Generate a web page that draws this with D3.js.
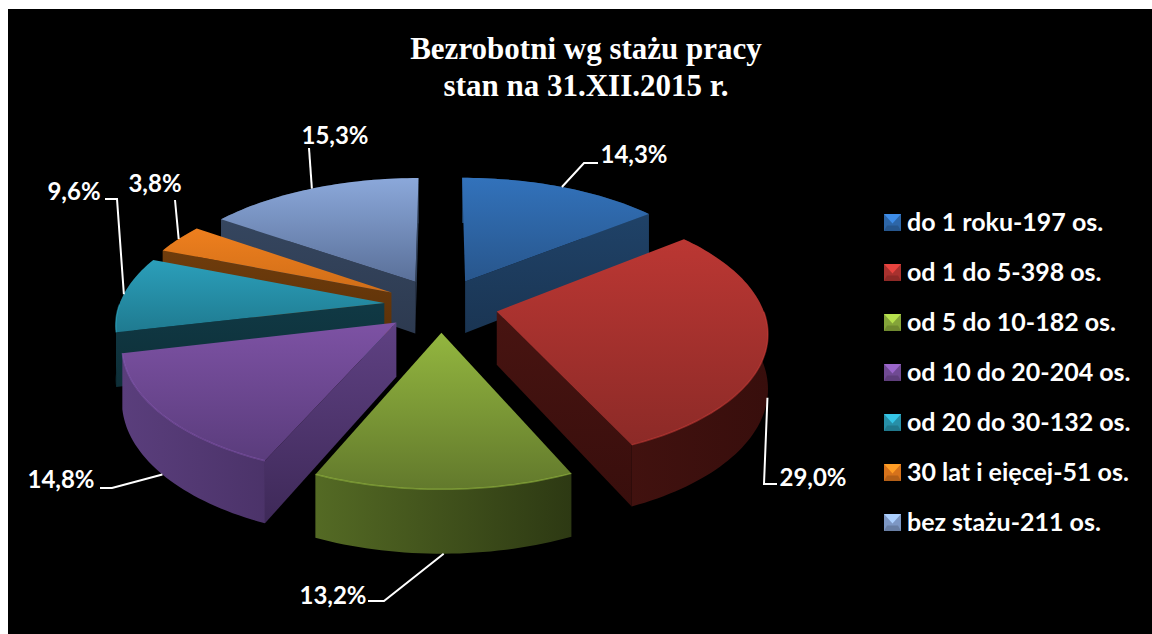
<!DOCTYPE html>
<html><head><meta charset="utf-8">
<script src="https://cdn.jsdelivr.net/npm/d3@7"></script>
<style>html,body{margin:0;padding:0;background:#fff}svg{display:block}</style>
</head><body><svg id="c" width="1152" height="634"></svg>
<script>
const titleLines=["Bezrobotni wg stażu pracy","stan na 31.XII.2015 r."];
const categories=["do 1 roku-197 os.","od 1 do 5-398 os.","od 5 do 10-182 os.","od 10 do 20-204 os.","od 20 do 30-132 os.","30 lat i eięcej-51 os.","bez stażu-211 os."];
const values=[197,398,182,204,132,51,211];
const percentLabels=["14,3%","29,0%","13,2%","14,8%","9,6%","3,8%","15,3%"];
const topColors=[["#3272bb","#28568c"],["#bb3733","#8c2a27"],["#93b63f","#62792c"],["#7d52a4","#5a3c7c"],["#2b9fba","#1f7a90"],["#ee7f1e","#d06e18"],["#8ba8da","#5a7099"]];
const wallColors=[["#1f4268","#1a3553"],["#4a1512","#380e0c"],["#546a24","#2d3913"],["#5a3e7c","#3e2958"],["#103b47","#0e2f38"],["#6e3c0c","#5a3008"],["#35465f","#2d3a50"]];
const drawOrder=[0,6,5,4,3,1,2];
const leaderDepth=[0,1,1,1,0,0,0];
const leaderEnds=[[[584,163],[598,163]],[[764,484],[777,484]],[[384,601],[368,601]],[[112,488],[100,488]],[[117,199],[105,199]],[[175,200]],[[309,148]]];
const labelPos=[[634,155],[813,478],[333,596],[61,480],[74,192],[155,184],[335,136]];

const svg=d3.select("#c");
const defs=svg.append("defs");
svg.append("rect").attr("x",8).attr("y",9).attr("width",1144).attr("height",625).attr("fill","#000");

const cx=441,cy=305,Rx=265,Ry=125,K=0.145,E=0.215,H=53;
const arcs=d3.pie().sort(null).value(d=>d)(values);
function project(a,r,mid,z){
  const x=r*Math.sin(a)+E*Math.sin(mid), y=-r*Math.cos(a)-E*Math.cos(mid), w=1-K*y;
  return [cx+Rx*x/w, cy+Ry*y/w+z*H/w];
}
const line=d3.line();
function arcAngles(d){
  const n=Math.max(12,Math.ceil((d.endAngle-d.startAngle)*40));
  return d3.range(n+1).map(i=>d.startAngle+(d.endAngle-d.startAngle)*i/n);
}
function grad(id,c,x1,y1,x2,y2){
  const g=defs.append("linearGradient").attr("id",id).attr("gradientUnits","userSpaceOnUse")
    .attr("x1",x1).attr("y1",y1).attr("x2",x2).attr("y2",y2);
  g.append("stop").attr("offset",0).attr("stop-color",c[0]);
  g.append("stop").attr("offset",1).attr("stop-color",c[1]);
  return `url(#${id})`;
}
const gPie=svg.append("g");
drawOrder.forEach(i=>{
  const d=arcs[i],mid=(d.startAngle+d.endAngle)/2;
  const angles=arcAngles(d);
  const top=angles.map(a=>project(a,1,mid,0)),bot=angles.map(a=>project(a,1,mid,1));
  const ap0=project(0,0,mid,0),ap1=project(0,0,mid,1);
  const all=top.concat(bot,[ap0,ap1]);
  const x0=d3.min(all,p=>p[0]),x1=d3.max(all,p=>p[0]);
  const y0=d3.min(top.concat([ap0]),p=>p[1]),y1=d3.max(top.concat([ap0]),p=>p[1]);
  const wf=grad("w"+i,wallColors[i],x0,0,x1,0);
  const wr=grad("r"+i,[d3.color(wallColors[i][0]).brighter(0.15).formatHex(),wallColors[i][1]],0,d3.min(all,p=>p[1]),0,d3.max(all,p=>p[1]));
  const tf=grad("t"+i,topColors[i],0,y0,0,y1);
  // outer wall
  gPie.append("path").attr("d",line(top.concat(bot.slice().reverse()))+"Z").attr("fill",wf);
  // radial walls facing the viewer
  if(Math.sin(d.startAngle)<0) gPie.append("path").attr("d",line([ap0,top[0],bot[0],ap1])+"Z").attr("fill",wr);
  if(Math.sin(d.endAngle)>0){const k=top.length-1;gPie.append("path").attr("d",line([ap0,top[k],bot[k],ap1])+"Z").attr("fill",wr);}
  // top face
  gPie.append("path").attr("d",line([ap0].concat(top))+"Z").attr("fill",tf);
  // bevel highlight along the front rim
  const rim=top.filter((p,k)=>Math.cos(angles[k])<0);
  if(rim.length>1) gPie.append("path").attr("d",line(rim)).attr("fill","none")
    .attr("stroke",d3.color(topColors[i][0]).brighter(0.5).formatHex()).attr("stroke-opacity",0.45).attr("stroke-width",1.5);
});

const gLead=svg.append("g");
arcs.forEach((d,i)=>{
  const mid=(d.startAngle+d.endAngle)/2;
  const s=project(mid,1,mid,leaderDepth[i]);
  gLead.append("path").attr("d",line([s].concat(leaderEnds[i]))).attr("fill","none").attr("stroke","#fff").attr("stroke-width",2);
  svg.append("text").attr("x",labelPos[i][0]).attr("y",labelPos[i][1]).attr("dy","0.35em").attr("text-anchor","middle")
    .attr("font-family","Lato").attr("font-weight",700).attr("font-size",24).attr("fill","#fff").text(percentLabels[i]);
});

const gTitle=svg.append("g").attr("font-family","'Liberation Serif'").attr("font-weight",700).attr("font-size",31).attr("fill","#fff").attr("text-anchor","middle");
titleLines.forEach((t,i)=>gTitle.append("text").attr("x",586).attr("y",59+i*37).text(t));

const legendY=d3.scalePoint().domain(categories).range([222.5,522.5]);
categories.forEach((c,i)=>{
  const y=legendY(c),x=884,s=17,g=svg.append("g");
  const col=topColors[i][0];
  g.append("rect").attr("x",x).attr("y",y-s/2).attr("width",s).attr("height",s).attr("fill",d3.color(col).darker(0.3).formatHex());
  g.append("path").attr("d",line([[x,y-s/2],[x+s,y-s/2],[x+s/2,y+1]])+"Z").attr("fill",d3.color(col).brighter(0.6).formatHex());
  g.append("path").attr("d",line([[x,y+s/2],[x+s,y+s/2],[x+s-3,y+3],[x+3,y+3]])+"Z").attr("fill",d3.color(col).darker(0.8).formatHex());
  g.append("text").attr("x",907).attr("y",y).attr("dy","0.35em").attr("font-family","Lato").attr("font-weight",700).attr("font-size",25).attr("fill","#fff").text(c);
});
</script></body></html>
